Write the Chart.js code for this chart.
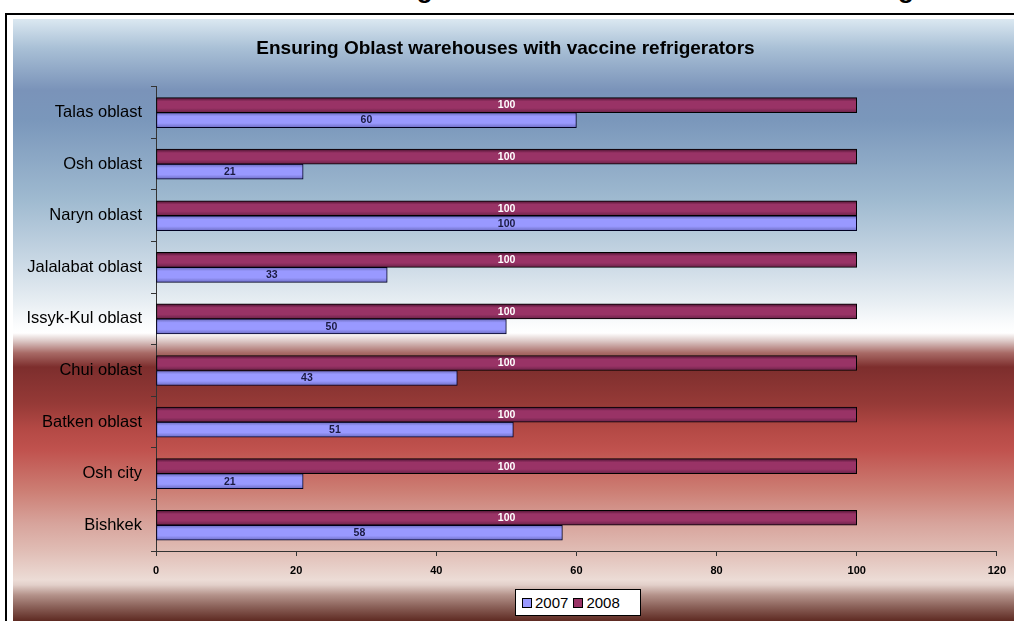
<!DOCTYPE html>
<html>
<head>
<meta charset="utf-8">
<script src="https://cdn.jsdelivr.net/npm/chart.js@4"></script>
<style>
  html, body { margin: 0; padding: 0; background: #ffffff; overflow: hidden; }
  body { width: 1014px; height: 621px; position: relative; font-family: Arial, "Liberation Sans", sans-serif; }
  #caption {
    position: absolute; left: 215px; top: 0; width: 790px; height: 8px; overflow: hidden;
  }
  #caption span {
    position: absolute; left: 0; right: 0; top: -24px; text-align: center; white-space: nowrap;
    font: bold 26px Arial, "Liberation Sans", sans-serif; line-height: 26px; color: #000;
  }
  #lineTop { position: absolute; left: 5px; top: 13px; width: 1009px; height: 2px; background: #000; }
  #lineLeft { position: absolute; left: 5px; top: 13px; width: 2px; height: 608px; background: #000; }
  #panel {
    position: absolute; left: 13px; top: 19px; width: 1001px; height: 602px;
    background: linear-gradient(to bottom,
      #dbe8f1 0px, #a9c0d6 29px, #7a93b9 71px, #7a97bb 101px, #9fbad0 181px,
      #c8d7e4 241px, #e6edf2 281px, #fbfcfd 306px, #ffffff 314px,
      #dcc8c6 322px, #a86a66 334px, #7d2e2d 348px, #963a37 385px,
      #b44945 410px, #c0524e 431px, #cc7d73 471px, #d7a39b 504px,
      #e0bcb4 531px, #ecdcd6 561px, #e2cfc9 566px, #b4928a 576px,
      #8a6058 588px, #5e2a22 602px);
  }
  #chartBox { position: absolute; left: 13px; top: 19px; width: 1001px; height: 602px; }
  #legend {
    position: absolute; left: 515px; top: 589px; width: 126px; height: 27px;
    background: #fff; border: 1px solid #000; box-sizing: border-box;
    font: 15px Arial, "Liberation Sans", sans-serif; color: #000;
    display: flex; align-items: center; padding-left: 6px;
  }
  #legend i { display: inline-block; width: 8px; height: 8px; border: 1px solid #000; margin-right: 3px; }
  #legend b { font-weight: normal; margin-right: 5px; }
</style>
</head>
<body>
<div id="caption"><span>Table 6. Ensuring Oblast warehouses with vaccine refrigerators</span></div>
<div id="lineTop"></div>
<div id="lineLeft"></div>
<div id="panel"></div>
<div id="chartBox"><canvas id="chart" width="1001" height="602"></canvas></div>
<div id="legend"><i style="background:#9999ff"></i><b>2007</b><i style="background:#993366"></i><b>2008</b></div>

<script>
// Data (top to bottom as shown)
const regions = ['Talas oblast', 'Osh oblast', 'Naryn oblast', 'Jalalabat oblast', 'Issyk-Kul oblast',
                 'Chui oblast', 'Batken oblast', 'Osh city', 'Bishkek'];
const values2007 = [60, 21, 100, 33, 50, 43, 51, 21, 58];
const values2008 = [100, 100, 100, 100, 100, 100, 100, 100, 100];
const xTicks = [0, 20, 40, 60, 80, 100, 120];

const BAR_H = 15;

// vertical shaded fill for each bar (darker edges like the original 3D-ish bars)
function barFill(dark, mid, edge, offset) {
    return (ctx) => {
        const chart = ctx.chart;
        const y = chart.scales && chart.scales.y;
        if (!y || ctx.dataIndex === undefined || !chart.chartArea) return mid;
        const c = y.getPixelForValue(ctx.dataIndex);
        const top = c + offset;
        const g = chart.ctx.createLinearGradient(0, top, 0, top + BAR_H);
        g.addColorStop(0, dark);
        g.addColorStop(0.25, mid);
        g.addColorStop(0.7, mid);
        g.addColorStop(1, edge);
        return g;
    };
}

// value labels centred in each bar
const barValueLabels = {
    id: 'barValueLabels',
    afterDatasetsDraw(chart) {
        const { ctx } = chart;
        ctx.save();
        ctx.font = 'bold 10.5px Arial, "Liberation Sans", sans-serif';
        ctx.textAlign = 'center';
        ctx.textBaseline = 'middle';
        chart.data.datasets.forEach((ds, di) => {
            const meta = chart.getDatasetMeta(di);
            meta.data.forEach((bar, i) => {
                const x = (bar.x + bar.base) / 2;
                ctx.fillStyle = ds.labelColor;
                ctx.fillText(String(ds.data[i]), x, bar.y + 0.5);
            });
        });
        ctx.restore();
    }
};

new Chart(document.getElementById('chart'), {
    type: 'bar',
    data: {
        labels: regions,
        datasets: [
            {
                label: '2008',
                data: values2008,
                backgroundColor: barFill('#4a1230', '#993366', '#6a2248', -BAR_H),
                borderColor: '#000000',
                borderWidth: 1,
                borderSkipped: false,
                barThickness: BAR_H,
                labelColor: '#ffffff'
            },
            {
                label: '2007',
                data: values2007,
                backgroundColor: barFill('#6a6ab8', '#9999ff', '#6e6ec4', 0),
                borderColor: '#000022',
                borderWidth: 1,
                borderSkipped: false,
                barThickness: BAR_H,
                labelColor: '#1a1a40'
            }
        ]
    },
    options: {
        indexAxis: 'y',
        responsive: false,
        animation: false,
        layout: { padding: { top: 0, right: 16, bottom: 30, left: 0 } },
        plugins: {
            legend: { display: false },
            tooltip: { enabled: false },
            title: {
                display: true,
                text: 'Ensuring Oblast warehouses with vaccine refrigerators',
                color: '#000',
                font: { family: 'Arial, "Liberation Sans", sans-serif', size: 19, weight: 'bold' },
                padding: { top: 18, bottom: 27 }
            }
        },
        scales: {
            x: {
                min: 0, max: 120,
                afterBuildTicks: (s) => { s.ticks = xTicks.map(v => ({ value: v })); },
                afterFit: (s) => { s.height = 40; },
                grid: { drawOnChartArea: false, drawTicks: true, tickLength: 5, color: '#333333' },
                border: { color: '#333333', width: 1 },
                ticks: {
                    color: '#000',
                    padding: 8,
                    font: { family: 'Arial, "Liberation Sans", sans-serif', size: 11, weight: 'bold' }
                }
            },
            y: {
                afterFit: (s) => { s.width = 143; },
                grid: { offset: true, drawOnChartArea: false, drawTicks: true, tickLength: 5, color: '#333333' },
                border: { color: '#333333', width: 1 },
                ticks: {
                    color: '#000',
                    padding: 9,
                    font: { family: 'Arial, "Liberation Sans", sans-serif', size: 16.5 }
                }
            }
        }
    },
    plugins: [barValueLabels]
});
</script>
</body>
</html>
